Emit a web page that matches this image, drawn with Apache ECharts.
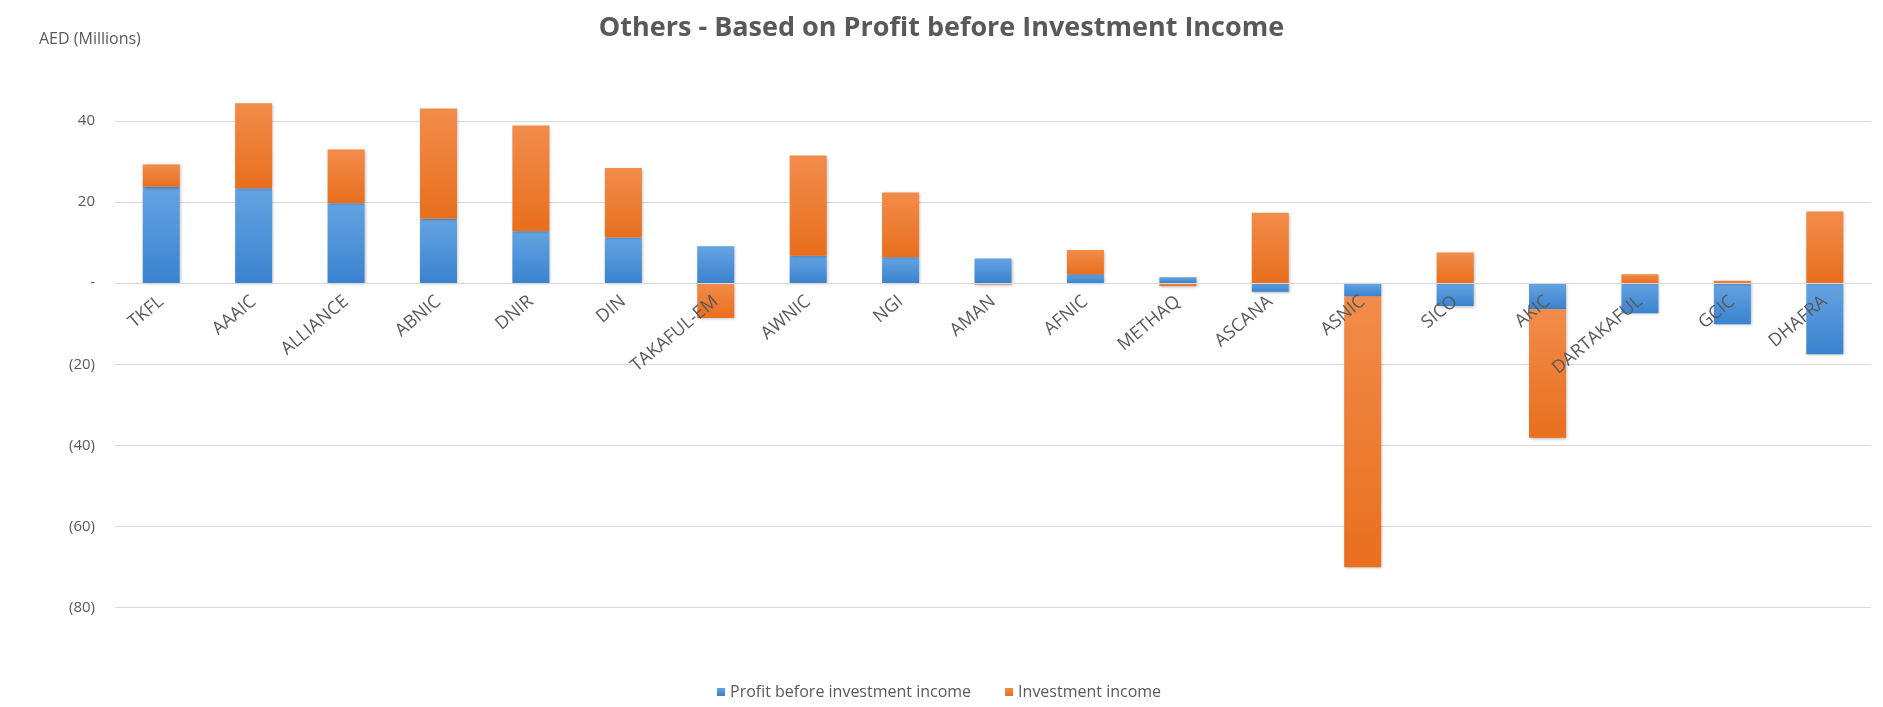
<!DOCTYPE html>
<html>
<head>
<meta charset="utf-8">
<script src="https://cdn.jsdelivr.net/npm/echarts@6/dist/echarts.min.js"></script>
<style>
  html, body { margin: 0; padding: 0; background: #fff; }
  #chart { width: 1883px; height: 707px; }
</style>
</head>
<body>
<div id="chart"></div>
<script>
var categories = ["TKFL", "AAAIC", "ALLIANCE", "ABNIC", "DNIR", "DIN", "TAKAFUL-EM", "AWNIC", "NGI", "AMAN",
  "AFNIC", "METHAQ", "ASCANA", "ASNIC", "SICO", "AKIC", "DARTAKAFUL", "GCIC", "DHAFRA"];
var profitBeforeInv = [23.8, 23.4, 19.7, 15.9, 12.8, 11.3, 9.1, 6.8, 6.4, 6.1,
  2.2, 1.5, -2.1, -3.3, -5.6, -6.4, -7.4, -10.1, -17.5];
var investmentIncome = [5.5, 21.0, 13.3, 27.2, 26.1, 17.1, -8.6, 24.7, 16.0, -0.3,
  6.0, -0.7, 17.4, -66.8, 7.6, -31.7, 2.2, 0.6, 17.7];

var textGray = "#595959";
var font = "Open Sans";

// grid geometry: y from -80 to 60, category labels sit on the zero line
var gridTop = 40, gridBottom = 99.5, yMin = -80, yMax = 60;
var plotH = 707 - gridTop - gridBottom;
var zeroShift = plotH * (0 - yMin) / (yMax - yMin);

function grad(top, bottom) {
  return new echarts.graphic.LinearGradient(0, 0, 0, 1, [
    { offset: 0, color: top },
    { offset: 1, color: bottom }
  ]);
}

var chart = echarts.init(document.getElementById("chart"));
chart.setOption({
  animation: false,
  backgroundColor: "#fff",
  title: [
    {
      text: "Others - Based on Profit before Investment Income",
      left: "center",
      top: 10,
      textStyle: { color: textGray, fontFamily: font, fontSize: 27, fontWeight: "bold" }
    },
    {
      text: "AED (Millions)",
      left: 34,
      top: 26,
      textStyle: { color: textGray, fontFamily: font, fontSize: 16, fontWeight: "normal" }
    }
  ],
  legend: {
    left: 712,
    top: 679,
    icon: "rect",
    itemWidth: 8,
    itemHeight: 8,
    itemGap: 34,
    textStyle: { color: textGray, fontFamily: font, fontSize: 16 },
    data: ["Profit before investment income", "Investment income"]
  },
  grid: { left: 115, right: 12, top: gridTop, bottom: gridBottom },
  xAxis: {
    type: "category",
    data: categories,
    z: 10,
    offset: -zeroShift,
    axisLine: { show: true, onZero: false, lineStyle: { color: "#d9d9d9", width: 1 } },
    axisTick: { show: false },
    axisLabel: {
      interval: 0,
      rotate: 40,
      margin: 16,
      color: textGray,
      fontFamily: font,
      fontSize: 18
    }
  },
  yAxis: {
    type: "value",
    min: yMin,
    max: yMax,
    interval: 20,
    axisLine: { show: false },
    axisTick: { show: false },
    splitLine: { showMaxLine: false, lineStyle: { color: "#d9d9d9", width: 1 } },
    axisLabel: {
      showMaxLabel: false,
      margin: 20,
      color: textGray,
      fontFamily: font,
      fontSize: 15,
      formatter: function (v) {
        if (v === 0) return "-";
        return v < 0 ? "(" + (-v) + ")" : String(v);
      }
    }
  },
  series: [
    {
      name: "Profit before investment income",
      type: "bar",
      stack: "total",
      barWidth: 37,
      data: profitBeforeInv,
      itemStyle: {
        color: grad("#64a3e2", "#3a83cf"),
        shadowBlur: 3,
        shadowColor: "rgba(0,0,0,0.3)",
        shadowOffsetX: 1,
        shadowOffsetY: 1
      }
    },
    {
      name: "Investment income",
      type: "bar",
      stack: "total",
      barWidth: 37,
      data: investmentIncome,
      itemStyle: {
        color: grad("#f28c4b", "#e86f1d"),
        shadowBlur: 3,
        shadowColor: "rgba(0,0,0,0.3)",
        shadowOffsetX: 1,
        shadowOffsetY: 1
      }
    }
  ]
});
</script>
</body>
</html>
